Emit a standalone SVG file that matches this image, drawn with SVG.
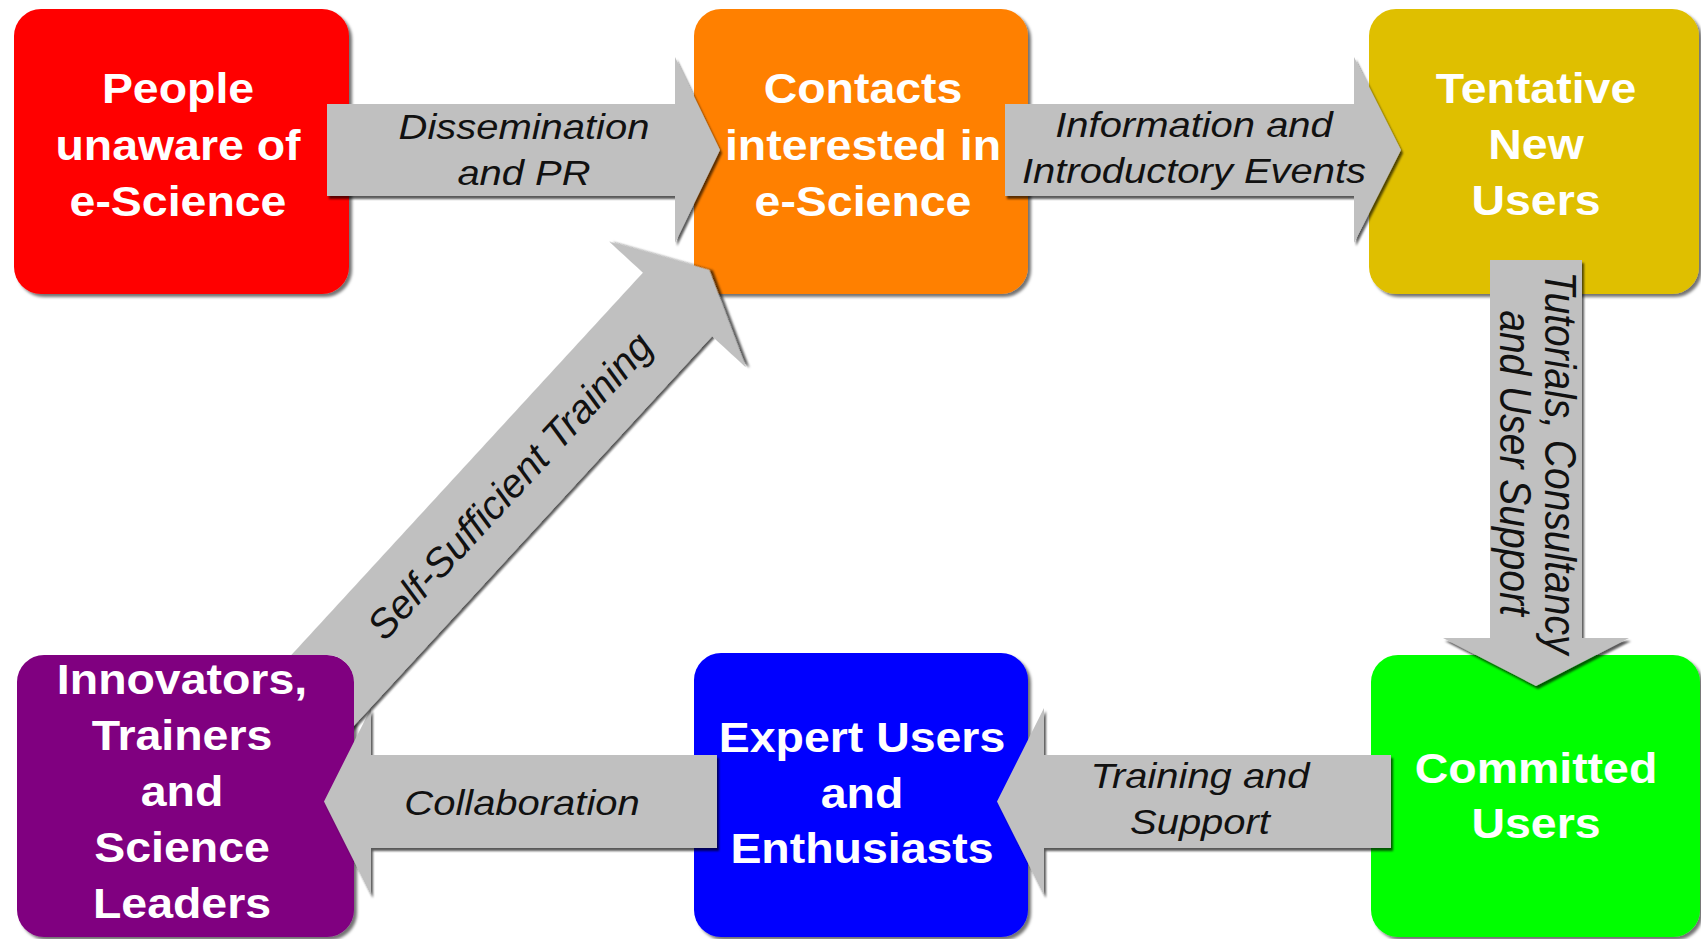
<svg xmlns="http://www.w3.org/2000/svg" width="1701" height="939" viewBox="0 0 1701 939">
<defs>
<style>
.box{filter:url(#bsh)}
.nt{font-family:"Liberation Sans",Arial,sans-serif;font-weight:bold;font-size:43px;fill:#fff;text-anchor:middle}
.arr{fill:#C0C0C0}
.lt{font-family:"Liberation Sans",Arial,sans-serif;font-style:italic;font-size:36px;fill:#111;text-anchor:middle}
</style>
<filter id="bsh" x="-5%" y="-5%" width="115%" height="115%"><feDropShadow dx="3" dy="3" stdDeviation="1.5" flood-color="#000" flood-opacity="0.55"/></filter>
<filter id="ash" x="-5%" y="-5%" width="115%" height="115%"><feDropShadow dx="2" dy="3" stdDeviation="1" flood-color="#000" flood-opacity="0.65"/></filter>
<mask id="mp" maskUnits="userSpaceOnUse" x="0" y="0" width="1701" height="939">
<rect x="0" y="0" width="1701" height="939" fill="#fff"/>
<rect x="17" y="655" width="337" height="282" rx="27" fill="#000"/>
</mask>
</defs>
<rect width="1701" height="939" fill="#fff"/>

<g id="node-people">
<rect class="box" x="14" y="9" width="335" height="285" rx="27" fill="#FF0000"/>
<g transform="matrix(1.08 0 0 1 178 0)"><text class="nt" x="0" y="103">People</text><text class="nt" x="0" y="160">unaware of</text><text class="nt" x="0" y="216">e-Science</text></g>
</g>
<g id="node-contacts">
<rect class="box" x="694" y="9" width="334" height="285" rx="27" fill="#FF8000"/>
<g transform="matrix(1.08 0 0 1 863 0)"><text class="nt" x="0" y="103">Contacts</text><text class="nt" x="0" y="160">interested in</text><text class="nt" x="0" y="216">e-Science</text></g>
</g>
<g id="node-tentative">
<rect class="box" x="1369" y="9" width="330" height="285" rx="27" fill="#DFBF00"/>
<g transform="matrix(1.08 0 0 1 1536 0)"><text class="nt" x="0" y="103">Tentative</text><text class="nt" x="0" y="159">New</text><text class="nt" x="0" y="215">Users</text></g>
</g>
<g id="node-committed">
<rect class="box" x="1371" y="655" width="329" height="282" rx="27" fill="#00FF00"/>
<g transform="matrix(1.08 0 0 1 1536 0)"><text class="nt" x="0" y="783">Committed</text><text class="nt" x="0" y="838">Users</text></g>
</g>
<g id="node-expert">
<rect class="box" x="694" y="653" width="334" height="284" rx="27" fill="#0000FF"/>
<g transform="matrix(1.08 0 0 1 862 0)"><text class="nt" x="0" y="752">Expert Users</text><text class="nt" x="0" y="808">and</text><text class="nt" x="0" y="863">Enthusiasts</text></g>
</g>
<g id="node-innovators">
<rect class="box" x="17" y="655" width="337" height="282" rx="27" fill="#800080"/>
<g transform="matrix(1.08 0 0 1 182 0)"><text class="nt" x="0" y="694">Innovators,</text><text class="nt" x="0" y="750">Trainers</text><text class="nt" x="0" y="806">and</text><text class="nt" x="0" y="862">Science</text><text class="nt" x="0" y="918">Leaders</text></g>
</g>

<g id="connectors">
<g id="c-dissemination">
<polygon class="arr" filter="url(#ash)" points="327,104 675,104 675,57 720,150 675,243 675,196 327,196"/>
<g transform="matrix(1.11 0 0 1 524 0)"><text class="lt" x="0" y="139">Dissemination</text><text class="lt" x="0" y="185">and PR</text></g>
</g>
<g id="c-information">
<polygon class="arr" filter="url(#ash)" points="1005,104 1354,104 1354,57 1401,150 1354,243 1354,196 1005,196"/>
<g transform="matrix(1.11 0 0 1 1194 0)"><text class="lt" x="0" y="137">Information and</text><text class="lt" x="0" y="183">Introductory Events</text></g>
</g>
<g id="c-tutorials">
<polygon class="arr" filter="url(#ash)" points="1490,260 1582,260 1582,638 1629,638 1536,686 1443,638 1490,638"/>
<g transform="translate(1545,463) scale(1.12,1) rotate(90)"><text class="lt" style="font-size:39px" x="0" y="0">Tutorials, Consultancy</text><text class="lt" style="font-size:39px" x="0" y="40">and User Support</text></g>
</g>
<g id="c-training">
<polygon class="arr" filter="url(#ash)" points="1391,755 1044,755 1044,708 997,801.5 1044,895 1044,848 1391,848"/>
<g transform="matrix(1.11 0 0 1 1200 0)"><text class="lt" x="0" y="788">Training and</text><text class="lt" x="0" y="834">Support</text></g>
</g>
<g id="c-collaboration">
<polygon class="arr" filter="url(#ash)" points="717,755 371,755 371,708 324,801.5 371,895 371,848 717,848"/>
<g transform="matrix(1.11 0 0 1 522 0)"><text class="lt" x="0" y="815">Collaboration</text></g>
</g>
<g id="c-selfsufficient">
<g mask="url(#mp)">
<polygon class="arr" filter="url(#ash)" transform="translate(677.5,304.5) rotate(-47.4)" points="-620,-47 0,-47 0,-93 47,0 0,93 0,47 -620,47"/>
</g>
<g transform="translate(677.5,304.5) rotate(-47.4)"><text class="lt" style="font-size:40px" x="-247" y="13">Self-Sufficient Training</text></g>
</g>
</g>
</svg>
